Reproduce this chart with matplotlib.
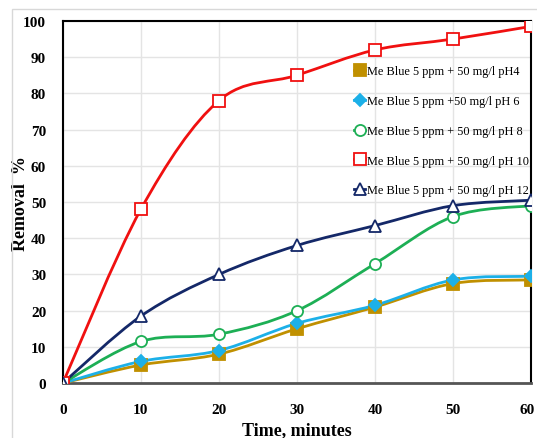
import matplotlib.pyplot as plt
import matplotlib.transforms as mtransforms
import numpy as np
from matplotlib.path import Path
from matplotlib.patches import PathPatch, Rectangle

plt.rcParams['font.family'] = ['Liberation Serif', 'DejaVu Serif']

# DATA
time_min = [0, 10, 20, 30, 40, 50, 60]
ph4 = [0, 5, 8, 15, 21, 27.5, 28.5]
ph6 = [0, 6, 9, 16.5, 21.5, 28.5, 29.5]
ph8 = [0, 11.5, 13.5, 20, 33, 46, 49]
ph10 = [0, 48, 78, 85, 92, 95, 98.5]
ph12 = [0, 18.5, 30, 38, 43.5, 49, 50.5]

labels = ['Me Blue 5 ppm + 50 mg/l pH4',
          'Me Blue 5 ppm +50 mg/l pH 6',
          'Me Blue 5 ppm + 50 mg/l pH 8',
          'Me Blue 5 ppm + 50 mg/l pH 10',
          'Me Blue 5 ppm + 50 mg/l pH 12']


def smooth_path(x, y):
    # excel-like smoothed line as cubic bezier segments
    x = np.asarray(x, float)
    y = np.asarray(y, float)
    verts = [(x[0], y[0])]
    codes = [Path.MOVETO]
    n = len(x)
    for i in range(n - 1):
        x0, y0 = (x[i - 1], y[i - 1]) if i > 0 else (x[i], y[i])
        x3, y3 = (x[i + 2], y[i + 2]) if i + 2 < n else (x[i + 1], y[i + 1])
        c1 = (x[i] + (x[i + 1] - x0) / 6, y[i] + (y[i + 1] - y0) / 6)
        c2 = (x[i + 1] - (x3 - x[i]) / 6, y[i + 1] - (y3 - y[i]) / 6)
        verts += [c1, c2, (x[i + 1], y[i + 1])]
        codes += [Path.CURVE4] * 3
    return Path(verts, codes)


fig = plt.figure(figsize=(5.37, 4.39), dpi=100)
ax = fig.add_axes([0.117, 0.125, 0.872, 0.825])

series = [
    (ph4, '#C09000', 's', True),
    (ph6, '#1CB0E8', 'D', True),
    (ph8, '#1DAF55', 'o', False),
    (ph10, '#F01010', 's', False),
    (ph12, '#142868', '^', False),
]

for (vals, col, mk, filled), lab in zip(series, labels):
    ax.add_patch(PathPatch(smooth_path(time_min, vals), facecolor='none',
                           edgecolor=col, lw=2, zorder=3))
    ax.plot(time_min, vals, linestyle='none', marker=mk,
            markersize=8 if mk != 'D' else 6,
            markerfacecolor=col if filled else 'white',
            markeredgecolor=col, markeredgewidth=1.3, zorder=4)

# legend handles with lines
handles = [plt.Line2D([], [], color=c, lw=2, marker=m,
                      markersize=8 if m != 'D' else 6,
                      markerfacecolor=c if f else 'white',
                      markeredgecolor=c, markeredgewidth=1.3)
           for (_, c, m, f) in series]
ax.legend(handles, labels, loc='upper left', bbox_to_anchor=(0.622, 0.877),
          frameon=False, fontsize=8.8, handlelength=0.9, handletextpad=0.15,
          labelspacing=1.45, borderaxespad=0, borderpad=0)

ax.set_xlim(0, 60)
ax.set_ylim(0, 100)
ax.set_xticks(range(0, 61, 10))
ax.set_yticks(range(0, 101, 10))
ax.grid(True, color='#e4e4e4', lw=1)
ax.set_axisbelow(True)
for s in ['top', 'right', 'left']:
    ax.spines[s].set_color('black')
    ax.spines[s].set_linewidth(1.5)
ax.spines['bottom'].set_color('#555555')
ax.spines['bottom'].set_linewidth(2)
ax.tick_params(length=0, labelsize=11)
ax.tick_params(axis='x', pad=14)
ax.tick_params(axis='y', pad=12)
for t in ax.get_xticklabels() + ax.get_yticklabels():
    t.set_fontweight('bold')
# nudge the last x label so it stays inside the figure
last = ax.get_xticklabels()[-1]
last.set_transform(last.get_transform() +
                   mtransforms.ScaledTranslation(-3 / 72, 0, fig.dpi_scale_trans))

ax.set_xlabel('Time, minutes', fontsize=13, fontweight='bold', labelpad=4)
ax.set_ylabel('Removal  %', fontsize=13, fontweight='bold')
ax.yaxis.set_label_coords(-0.072, 0.5)

# outer chart frame
fig.patches.append(Rectangle((0.022, -0.05), 1.0, 1.027, transform=fig.transFigure,
                             fill=False, edgecolor='#d8d8d8', lw=1))

plt.savefig('out.png', dpi=100)
